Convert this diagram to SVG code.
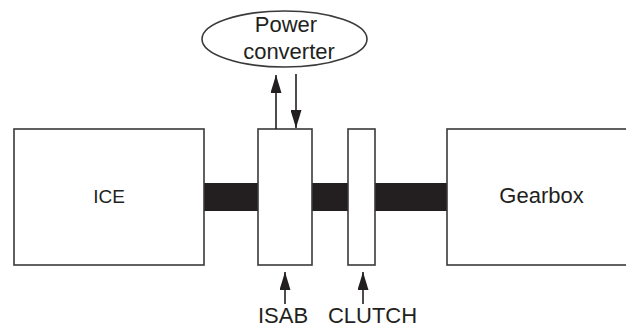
<svg xmlns="http://www.w3.org/2000/svg" width="626" height="328" viewBox="0 0 626 328">
<defs>
<style>
.box{fill:#fff;stroke:#3a3a3a;stroke-width:1.6}
.shaft{fill:#231f20}
.lbl{font-family:"Liberation Sans",Arial,sans-serif;fill:#231f20;font-size:22px;text-anchor:middle}
.ln{stroke:#231f20;stroke-width:1.6;fill:none}
</style>
<marker id="ah" viewBox="0 0 18 11" refX="18" refY="5.5" markerUnits="userSpaceOnUse" markerWidth="18" markerHeight="11" orient="auto">
<path d="M0,0 L18,5.5 L0,11 Z" fill="#231f20"/>
</marker>
</defs>
<rect width="626" height="328" fill="#fff"/>
<g id="shafts">
<rect class="shaft" x="203" y="183" width="56" height="28"/>
<rect class="shaft" x="311" y="183" width="38" height="28"/>
<rect class="shaft" x="374" y="183" width="74" height="28"/>
</g>
<g id="ice">
<rect class="box" x="14" y="129" width="190" height="136"/>
<text class="lbl" x="109" y="203" style="font-size:19px">ICE</text>
</g>
<g id="isab">
<rect class="box" x="258" y="129" width="54" height="136"/>
</g>
<g id="clutch">
<rect class="box" x="348" y="129" width="27" height="136"/>
</g>
<g id="gearbox">
<rect class="box" x="447" y="129" width="190" height="136"/>
<text class="lbl" x="541.5" y="203">Gearbox</text>
</g>
<g id="power-converter">
<ellipse class="box" cx="284.5" cy="39" rx="82.5" ry="28"/>
<text class="lbl" x="286" y="32">Power</text>
<text class="lbl" x="289" y="59">converter</text>
</g>
<g id="isab-label">
<text class="lbl" x="283" y="323">ISAB</text>
</g>
<g id="clutch-label">
<text class="lbl" x="372.5" y="323">CLUTCH</text>
</g>
<g id="connectors">
<line class="ln" x1="276" y1="129" x2="276" y2="75" marker-end="url(#ah)"/>
<line class="ln" x1="296" y1="74" x2="296" y2="128" marker-end="url(#ah)"/>
<line class="ln" x1="285" y1="304" x2="285" y2="272" marker-end="url(#ah)"/>
<line class="ln" x1="363" y1="304" x2="363" y2="272" marker-end="url(#ah)"/>
</g>
</svg>
